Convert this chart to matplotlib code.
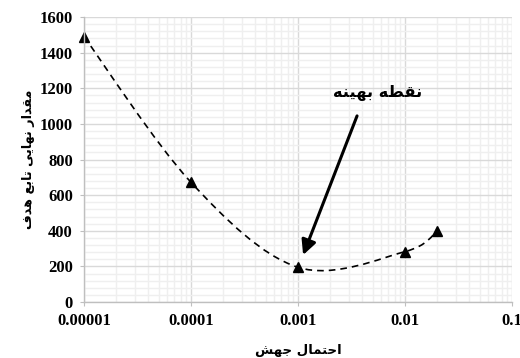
import numpy as np
import matplotlib
matplotlib.use("Agg")
import matplotlib.pyplot as plt
from matplotlib.path import Path
from matplotlib.patches import PathPatch
from matplotlib.ticker import FixedLocator, MultipleLocator, LogLocator, NullFormatter

# data
mutation_prob = [0.00001, 0.0001, 0.001, 0.01, 0.02]
objective = [1490, 672, 195, 283, 397]
x_ticks = [0.00001, 0.0001, 0.001, 0.01, 0.1]
x_tick_labels = ['0.00001', '0.0001', '0.001', '0.01', '0.1']
y_ticks = [0, 200, 400, 600, 800, 1000, 1200, 1400, 1600]

x_label = 'احتمال جهش'
y_label = 'مقدار نهایی تابع هدف'
note_label = 'نقطه بهینه'

# matplotlib has no arabic shaping, so pick presentation forms by hand
# (isolated, final, initial, medial)
FORMS = {
    'ا': ('\ufe8d', '\ufe8e', None, None),
    'ب': ('\ufe8f', '\ufe90', '\ufe91', '\ufe92'),
    'ت': ('\ufe95', '\ufe96', '\ufe97', '\ufe98'),
    'ج': ('\ufe9d', '\ufe9e', '\ufe9f', '\ufea0'),
    'ح': ('\ufea1', '\ufea2', '\ufea3', '\ufea4'),
    'د': ('\ufea9', '\ufeaa', None, None),
    'ر': ('\ufead', '\ufeae', None, None),
    'ش': ('\ufeb5', '\ufeb6', '\ufeb7', '\ufeb8'),
    'ط': ('\ufec1', '\ufec2', '\ufec3', '\ufec4'),
    'ع': ('\ufec9', '\ufeca', '\ufecb', '\ufecc'),
    'ف': ('\ufed1', '\ufed2', '\ufed3', '\ufed4'),
    'ق': ('\ufed5', '\ufed6', '\ufed7', '\ufed8'),
    'ل': ('\ufedd', '\ufede', '\ufedf', '\ufee0'),
    'م': ('\ufee1', '\ufee2', '\ufee3', '\ufee4'),
    'ن': ('\ufee5', '\ufee6', '\ufee7', '\ufee8'),
    'ه': ('\ufee9', '\ufeea', '\ufeeb', '\ufeec'),
    'ی': ('\ufbfc', '\ufbfd', '\ufbfe', '\ufbff'),
}


def shape(text):
    out = []
    for i, ch in enumerate(text):
        if ch not in FORMS:
            out.append(ch)
            continue
        iso, fin, ini, med = FORMS[ch]
        prev = text[i - 1] if i > 0 else ''
        nxt = text[i + 1] if i + 1 < len(text) else ''
        join_prev = prev in FORMS and FORMS[prev][2] is not None
        join_next = ini is not None and nxt in FORMS
        if join_prev and join_next:
            out.append(med)
        elif join_prev:
            out.append(fin)
        elif join_next:
            out.append(ini)
        else:
            out.append(iso)
    return ''.join(reversed(out))


def smooth_path(xs, ys, k=1.0 / 6):
    # excel style smoothed line: cubic bezier, tangents from neighbours (log x)
    lx = np.log10(xs)
    ys = np.asarray(ys, dtype=float)
    n = len(lx)
    verts = [(xs[0], ys[0])]
    codes = [Path.MOVETO]
    for i in range(n - 1):
        i0 = max(i - 1, 0)
        i3 = min(i + 2, n - 1)
        c1x = lx[i] + (lx[i + 1] - lx[i0]) * k
        c1y = ys[i] + (ys[i + 1] - ys[i0]) * k
        c2x = lx[i + 1] - (lx[i3] - lx[i]) * k
        c2y = ys[i + 1] - (ys[i3] - ys[i]) * k
        verts += [(10 ** c1x, c1y), (10 ** c2x, c2y), (xs[i + 1], ys[i + 1])]
        codes += [Path.CURVE4] * 3
    return Path(verts, codes)


fig = plt.figure(figsize=(5.2, 3.58), dpi=100)
ax = fig.add_axes([0.1615, 0.1564, 0.8231, 0.7961])

ax.set_xscale('log')
ax.set_xlim(1e-5, 0.1)
ax.set_ylim(0, 1600)

ax.xaxis.set_major_locator(FixedLocator(x_ticks))
ax.set_xticklabels(x_tick_labels)
ax.xaxis.set_minor_locator(LogLocator(base=10, subs=np.arange(2, 10)))
ax.xaxis.set_minor_formatter(NullFormatter())
ax.yaxis.set_major_locator(FixedLocator(y_ticks))
ax.yaxis.set_minor_locator(MultipleLocator(40))

ax.grid(which='major', color='#d9d9d9', linewidth=1.0)
ax.grid(which='minor', color='#efefef', linewidth=1.0)
ax.set_axisbelow(True)

for side in ['top', 'right']:
    ax.spines[side].set_visible(False)
for side in ['left', 'bottom']:
    ax.spines[side].set_color('#bfbfbf')
    ax.spines[side].set_linewidth(1.0)

ax.tick_params(which='major', length=3, color='#bfbfbf', pad=5)
ax.tick_params(which='minor', length=0)
for lbl in ax.get_xticklabels() + ax.get_yticklabels():
    lbl.set_fontfamily('Liberation Serif')
    lbl.set_fontweight('bold')
    lbl.set_fontsize(12)

curve = PathPatch(smooth_path(mutation_prob, objective), fill=False,
                  edgecolor='black', linewidth=1.2, linestyle=(0, (4, 3)))
ax.add_patch(curve)
ax.plot(mutation_prob, objective, linestyle='none', marker='^',
        markersize=7, color='black', clip_on=False)

ax.annotate('', xy=(0.512, 0.165), xytext=(0.638, 0.653),
            xycoords='axes fraction', textcoords='axes fraction',
            arrowprops=dict(arrowstyle='-|>', color='black', lw=2.2,
                            mutation_scale=22, shrinkA=0, shrinkB=0))
ax.text(0.685, 0.733, shape(note_label), transform=ax.transAxes,
        ha='center', va='center', fontsize=11.7, fontfamily='DejaVu Sans',
        fontweight='bold')

ax.set_xlabel(shape(x_label), fontsize=9.5, fontfamily='DejaVu Sans',
              fontweight='bold', labelpad=11)
ax.set_ylabel(shape(y_label), fontsize=9.2, fontfamily='DejaVu Sans',
              fontweight='bold', labelpad=3)

fig.savefig('out.png', dpi=100)
